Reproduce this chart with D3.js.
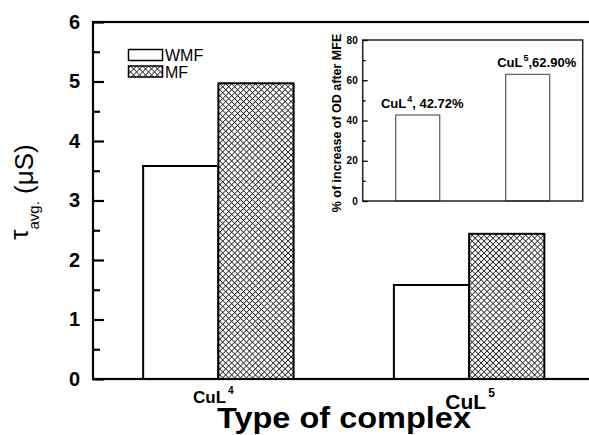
<!DOCTYPE html>
<html>
<head>
<meta charset="utf-8">
<script src="https://cdn.jsdelivr.net/npm/d3@7"></script>
<style>
  html, body { margin: 0; padding: 0; background: #fff; }
  svg { display: block; font-family: "Liberation Sans", Arial, sans-serif; }
</style>
</head>
<body>
<svg id="chart" width="589" height="435"></svg>
<script>
// ---------- data ----------
const categories = ["CuL", "CuL"];
const categorySup = ["4", "5"];
const seriesNames = ["WMF", "MF"];
const wmfValues = [3.58, 1.58];
const mfValues = [4.97, 2.44];
const yTicks = [0, 1, 2, 3, 4, 5, 6];

const insetValues = [42.72, 62.90];
const insetLabels = ["42.72%", "62.90%"];
const insetTicks = [0, 20, 40, 60, 80];

// ---------- layout ----------
const svg = d3.select("#chart");
const M = { left: 93, top: 22, bottom: 379, right: 594.5 };

const defs = svg.append("defs");
const pat = defs.append("pattern")
  .attr("id", "hatch").attr("patternUnits", "userSpaceOnUse")
  .attr("width", 4.2).attr("height", 4.2)
  .attr("patternTransform", "rotate(45)");
pat.append("rect").attr("width", 4.2).attr("height", 4.2).attr("fill", "#fff");
pat.append("line").attr("x1", 0).attr("y1", 0).attr("x2", 4.2).attr("y2", 0)
  .attr("stroke", "#2a2a2a").attr("stroke-width", 1.7);
pat.append("line").attr("x1", 0).attr("y1", 0).attr("x2", 0).attr("y2", 4.2)
  .attr("stroke", "#2a2a2a").attr("stroke-width", 1.7);

const x = d3.scaleLinear().domain([0.5, 2.5]).range([M.left, M.right]);
const y = d3.scaleLinear().domain([0, 6]).range([M.bottom, M.top]);
const barW = x(1.3) - x(1);

// bars
const g = svg.append("g");
categories.forEach((c, i) => {
  const cx = x(i + 1);
  g.append("rect")
    .attr("x", cx - barW).attr("y", y(wmfValues[i]))
    .attr("width", barW).attr("height", y(0) - y(wmfValues[i]))
    .attr("fill", "#fff").attr("stroke", "#000").attr("stroke-width", 2);
  g.append("rect")
    .attr("x", cx).attr("y", y(mfValues[i]))
    .attr("width", barW).attr("height", y(0) - y(mfValues[i]))
    .attr("fill", "url(#hatch)").attr("stroke", "#000").attr("stroke-width", 2);
});

// frame
svg.append("rect")
  .attr("x", M.left).attr("y", M.top)
  .attr("width", M.right - M.left).attr("height", M.bottom - M.top)
  .attr("fill", "none").attr("stroke", "#000").attr("stroke-width", 2.2);

// y axis (ticks inward)
const yAxis = svg.append("g").attr("transform", `translate(${M.left},0)`)
  .call(d3.axisLeft(y).tickValues(yTicks).tickFormat(d3.format("d"))
    .tickSizeInner(-11).tickSizeOuter(0).tickPadding(13));
yAxis.select(".domain").remove();
yAxis.selectAll(".tick line").attr("stroke", "#000").attr("stroke-width", 2.2);
yAxis.selectAll("text").attr("font-size", 20).attr("font-weight", "bold")
  .attr("fill", "#000").attr("font-family", "Liberation Sans, Arial, sans-serif");
const yMinor = svg.append("g").attr("transform", `translate(${M.left},0)`)
  .call(d3.axisLeft(y).tickValues(d3.range(0.5, 6, 1)).tickFormat("")
    .tickSizeInner(-7).tickSizeOuter(0));
yMinor.select(".domain").remove();
yMinor.selectAll(".tick line").attr("stroke", "#000").attr("stroke-width", 2.2);

// category labels
const catStyle = [{ size: 17, sup: 10, dx: -5, base: 403 }, { size: 21, sup: 12, dx: 1, base: 409 }];
categories.forEach((c, i) => {
  const st = catStyle[i];
  const t = svg.append("text")
    .attr("x", x(i + 1) + st.dx).attr("y", st.base)
    .attr("text-anchor", "middle").attr("font-weight", "bold")
    .attr("font-size", st.size);
  t.append("tspan").text(c);
  t.append("tspan").attr("dx", 2).attr("dy", -st.size * 0.55)
    .attr("font-size", st.sup).text(categorySup[i]);
});

// x title
svg.append("text").attr("x", 217).attr("y", 427.5)
  .attr("font-weight", "bold").attr("font-size", 29)
  .attr("textLength", 254).attr("lengthAdjust", "spacingAndGlyphs")
  .text("Type of complex");

// y title
const yt = svg.append("text")
  .attr("transform", "translate(33,192) rotate(-90)")
  .attr("text-anchor", "middle").attr("fill", "#000");
yt.append("tspan").attr("font-size", 26).attr("dy", -5).text("τ");
yt.append("tspan").attr("font-size", 15).attr("dy", 11).text("avg.");
yt.append("tspan").attr("font-size", 26).attr("dy", -6).text("\u00a0(μS)");

// legend
const legend = svg.append("g");
seriesNames.forEach((s, i) => {
  const ly = 49.5 + i * 16.5;
  legend.append("rect").attr("x", 128.5).attr("y", ly).attr("width", 34).attr("height", 11)
    .attr("fill", i === 0 ? "#fff" : "url(#hatch)").attr("stroke", "#000").attr("stroke-width", 1.5);
  legend.append("text").attr("x", 165).attr("y", ly + 11.5)
    .attr("font-size", 16).text(s);
});

// ---------- inset ----------
const IM = { left: 362.7, right: 582.7, top: 40, bottom: 201 };
const xi = d3.scaleLinear().domain([0.5, 2.5]).range([IM.left, IM.right]);
const yi = d3.scaleLinear().domain([0, 80]).range([IM.bottom, IM.top]);
const ibw = xi(1.4) - xi(1);

svg.append("rect").attr("x", IM.left).attr("y", IM.top)
  .attr("width", IM.right - IM.left).attr("height", IM.bottom - IM.top)
  .attr("fill", "#fff").attr("stroke", "none");

insetValues.forEach((v, i) => {
  svg.append("rect")
    .attr("x", xi(i + 1) - ibw / 2).attr("y", yi(v))
    .attr("width", ibw).attr("height", yi(0) - yi(v))
    .attr("fill", "#fff").attr("stroke", "#666").attr("stroke-width", 1.3);
  const t = svg.append("text")
    .attr("x", xi(i + 1) + (i === 0 ? 4.5 : 9)).attr("y", yi(v) - 7)
    .attr("text-anchor", "middle").attr("font-weight", "bold").attr("font-size", 13);
  t.append("tspan").text(categories[i]);
  t.append("tspan").attr("dx", 1).attr("dy", -6).attr("font-size", 9).text(categorySup[i]);
  t.append("tspan").attr("dy", 6).text(i === 0 ? ", " + insetLabels[i] : "," + insetLabels[i]);
});

svg.append("rect").attr("x", IM.left).attr("y", IM.top)
  .attr("width", IM.right - IM.left).attr("height", IM.bottom - IM.top)
  .attr("fill", "none").attr("stroke", "#222").attr("stroke-width", 1.5);

const iy = svg.append("g").attr("transform", `translate(${IM.left},0)`)
  .call(d3.axisLeft(yi).tickValues(insetTicks).tickFormat(d3.format("d"))
    .tickSizeInner(-5).tickSizeOuter(0).tickPadding(5));
iy.select(".domain").remove();
iy.selectAll(".tick line").attr("stroke", "#000").attr("stroke-width", 1.3);
iy.selectAll("text").attr("font-size", 10).attr("font-weight", "bold")
  .attr("fill", "#000").attr("font-family", "Liberation Sans, Arial, sans-serif");
const iyMinor = svg.append("g").attr("transform", `translate(${IM.left},0)`)
  .call(d3.axisLeft(yi).tickValues([10, 30, 50, 70]).tickFormat("")
    .tickSizeInner(-3).tickSizeOuter(0));
iyMinor.select(".domain").remove();
iyMinor.selectAll(".tick line").attr("stroke", "#000").attr("stroke-width", 1.3);

svg.append("text").attr("transform", "translate(341,123) rotate(-90)")
  .attr("text-anchor", "middle").attr("font-weight", "bold").attr("font-size", 12.5)
  .text("% of increase of OD after MFE");
</script>
</body>
</html>
